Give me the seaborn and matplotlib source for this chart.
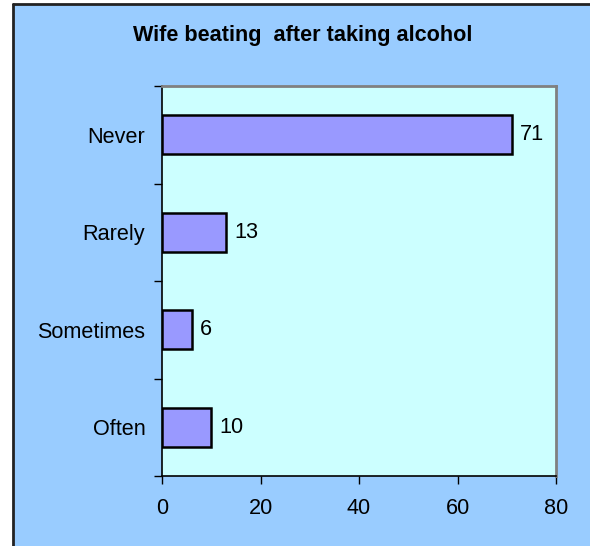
import matplotlib
matplotlib.use("Agg")
import matplotlib.pyplot as plt
import seaborn as sns
import pandas as pd
from matplotlib.patches import Rectangle
from matplotlib.lines import Line2D

categories = ["Never", "Rarely", "Sometimes", "Often"]
values = [71, 13, 6, 10]
x_ticks = [0, 20, 40, 60, 80]
title = "Wife beating  after taking alcohol"

sns.set_theme(style="white")
plt.rcParams['font.family'] = ['Liberation Sans', 'DejaVu Sans']
plt.rcParams['text.color'] = 'black'
plt.rcParams['xtick.color'] = 'black'
plt.rcParams['ytick.color'] = 'black'

df = pd.DataFrame({"category": categories, "value": values})

fig = plt.figure(figsize=(5.9, 5.46), dpi=100)
fig.patch.set_facecolor("white")
# background frame
fig.add_artist(Rectangle((13/590, 0), 1 - 13/590, 1 - 4/546, transform=fig.transFigure,
                         facecolor="#99CCFF", edgecolor="none", zorder=-10))
fig.add_artist(Line2D([13/590, 13/590], [0, 1 - 4/546], transform=fig.transFigure,
                      color="#222222", lw=2))
fig.add_artist(Line2D([13/590, 1], [1 - 4/546, 1 - 4/546], transform=fig.transFigure,
                      color="#222222", lw=2))

ax = fig.add_axes([162/590, 1 - 476/546, (556 - 162)/590, (476 - 86)/546])
ax.set_facecolor("#CCFFFF")

sns.barplot(data=df, x="value", y="category", order=categories, orient="h",
            color="#9999FF", edgecolor="black", linewidth=1.8, width=0.4,
            saturation=1, ax=ax)

fs = 15.6
for i, v in enumerate(values):
    ax.text(v + 1.6, i, str(v), va="center", ha="left", fontsize=fs, color="black")

ax.set_xlim(0, 80)
ax.set_ylim(3.5, -0.5)
ax.set_xticks(x_ticks)
ax.set_xticklabels([str(t) for t in x_ticks], fontsize=fs)
ax.set_yticks([-0.5, 0.5, 1.5, 2.5, 3.5], minor=False)
ax.set_yticklabels([])
ax.set_yticks(range(len(categories)), minor=True)
ax.set_yticklabels(categories, minor=True, fontsize=fs)
ax.tick_params(axis="y", which="minor", length=0, pad=12, labelcolor="black")
ax.tick_params(axis="y", which="major", length=6, width=1, color="black", direction="out", left=True)
ax.tick_params(axis="x", length=6, width=1, color="black", direction="out", bottom=True, pad=10,
               labelcolor="black")
ax.set_xlabel("")
ax.set_ylabel("")

for s in ["left", "bottom"]:
    ax.spines[s].set_color("black")
    ax.spines[s].set_linewidth(1.2)
for s in ["top", "right"]:
    ax.spines[s].set_color("#808080")
    ax.spines[s].set_linewidth(2)
    ax.spines[s].set_visible(True)

fig.text(303/590, 1 - 35/546, title, ha="center", va="center",
         fontsize=15.6, fontweight="bold", color="black")

fig.savefig("out.png", dpi=100, facecolor=fig.get_facecolor())
